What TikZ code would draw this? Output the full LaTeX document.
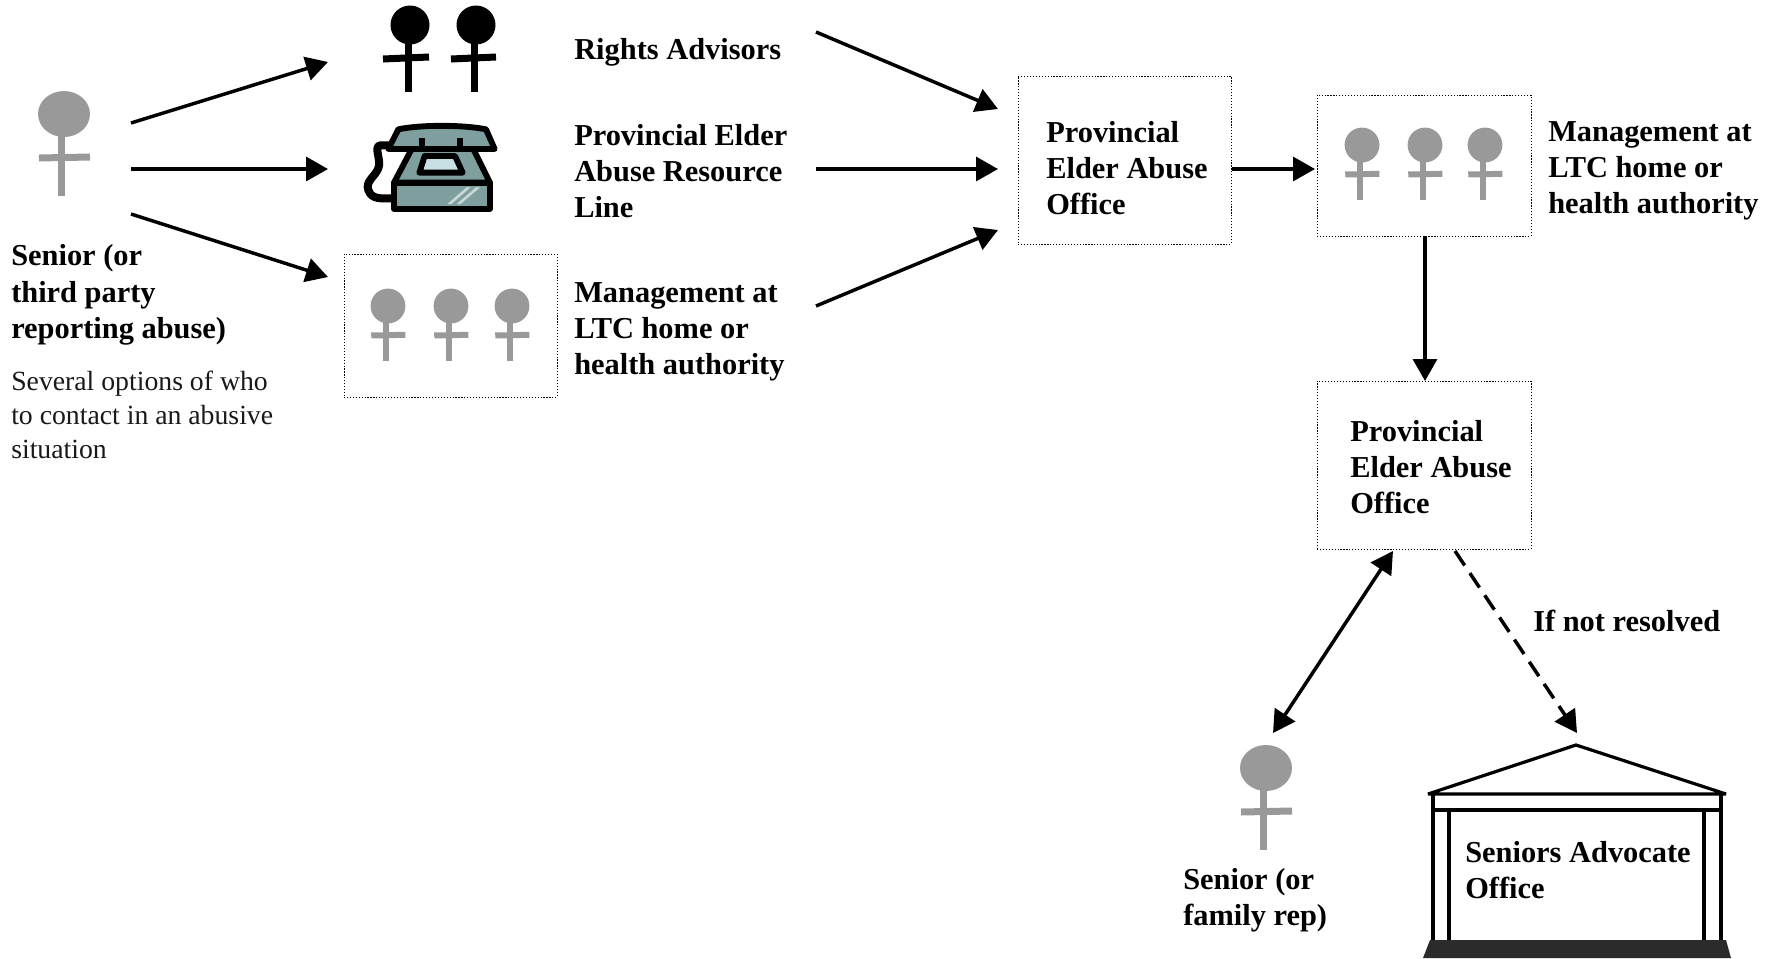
\documentclass[tikz,border=0pt]{standalone}
\usepackage{fontspec}
\setmainfont{Liberation Serif}
\usetikzlibrary{arrows.meta}
\definecolor{phoneteal}{HTML}{7F9E9E}
\definecolor{phoneglass}{HTML}{C8E0E4}
\definecolor{figgray}{HTML}{999999}
\definecolor{plinth}{HTML}{2B2B2B}
\tikzset{
  dbox/.style={draw=black,line width=.6pt,dash pattern=on .9pt off 1.3pt,inner sep=0pt},
  lab/.style={font=\bfseries\fontsize{22.8}{27.2}\selectfont,align=left,anchor=west,inner sep=0pt,text=black},
  note/.style={font=\fontsize{20.8}{25.5}\selectfont,align=left,anchor=west,inner sep=0pt,text=black!90},
  arr/.style={line width=2.6pt,-{Triangle[length=16.5pt,width=18pt]}},
  darr/.style={line width=2.6pt,{Triangle[length=16.5pt,width=18pt]}-{Triangle[length=16.5pt,width=18pt]}},
  dasharr/.style={line width=2.6pt,dash pattern=on 13pt off 7pt,-{Triangle[length=16.5pt,width=18pt]}},
  bld/.style={line width=2.4pt,draw=black,line cap=butt},
  phoneline/.style={draw=black,line width=4.4pt,line join=round,fill=phoneteal},
}
\newcommand{\personfig}[6]{% x, y, scale, colour, stroke width in px, head y radius
  \begin{scope}[shift={(#1,#2)},scale=#3]
    \fill[#4] (0,0) ellipse [x radius=26,y radius=#6];
    \draw[#4,line width=#5*.75pt] (-2.5,15) -- (-2.5,82);
    \draw[#4,line width=#5*.75pt] (-25,44) -- (26,43);
  \end{scope}}
\begin{document}
\begin{tikzpicture}[x=.75pt,y=-.75pt]
\useasboundingbox (0,0) rectangle (1779,958);

% boxes
\node[dbox,minimum width=159.75pt,minimum height=107.25pt] (mgmtA) at (450.5,325.5) {};
\node[dbox,minimum width=159.75pt,minimum height=126pt] (peaoA) at (1124.5,160) {};
\node[dbox,minimum width=160.5pt,minimum height=105.75pt] (mgmtB) at (1424,165.5) {};
\node[dbox,minimum width=160.5pt,minimum height=126pt] (peaoB) at (1424,465) {};

% free connector ends
\coordinate (s1) at (131,123); \coordinate (t1) at (328,62);
\coordinate (s2) at (131,169); \coordinate (t2) at (328,169);
\coordinate (s3) at (131,214); \coordinate (t3) at (328,277);
\coordinate (u1) at (816,32);  \coordinate (v1) at (998,109);
\coordinate (u2) at (816,169); \coordinate (v2) at (998,169);
\coordinate (u3) at (816,306); \coordinate (v3) at (998,230);
\coordinate (a1) at (1232,169); \coordinate (a2) at (1315,169);
\coordinate (b1) at (1425,236); \coordinate (b2) at (1425,381);
\coordinate (c1) at (1393,551); \coordinate (c2) at (1273,733);
\coordinate (d1) at (1455,551); \coordinate (d2) at (1577,733);

% people
\personfig{64}{114}{1}{figgray}{7}{23}
\personfig{1266}{768}{1}{figgray}{7}{23}
\personfig{388}{306}{.67}{figgray}{6}{26}
\personfig{451}{306}{.67}{figgray}{6}{26}
\personfig{512}{306}{.67}{figgray}{6}{26}
\personfig{1362}{145}{.67}{figgray}{6}{26}
\personfig{1425}{145}{.67}{figgray}{6}{26}
\personfig{1485}{145}{.67}{figgray}{6}{26}
\foreach \hx/\sx/\ca/\cb in {410/408/383/429,476/474/451/496}{
  \fill[black] (\hx,25) circle [radius=19.5];
  \fill[black] (\sx-3.5,30) rectangle (\sx+3.5,92);
  \draw[black,line width=5.25pt] (\ca,59) -- (\cb,57);
}

% phone
\begin{scope}[shift={(340,0)},scale=1/3]
  \draw[line width=6pt,line cap=round,line join=round] (150,436) -- (120,436)
     .. controls (100,440) and (125,480) .. (115,505)
     .. controls (105,530) and (75,545) .. (85,570)
     .. controls (95,600) and (125,595) .. (158,595);
  \path[phoneline] (145,447) -- (175,388) .. controls (240,374) and (370,374) .. (438,388) -- (464,447) -- cycle;
  \draw[line width=4.5pt] (245,415) -- (245,445);
  \draw[line width=4.5pt] (360,415) -- (360,445);
  \path[phoneline] (162,548) -- (215,447) -- (400,447) -- (450,548) -- cycle;
  \path[phoneline] (162,548) rectangle (450,626);
  \path[draw=black,line width=4.4pt,line join=round,fill=phoneglass] (238,518) -- (254,468) -- (345,468) -- (368,518) -- cycle;
  \fill[phoneteal!40] (322,612) -- (380,562) -- (392,562) -- (334,612) -- cycle;
  \fill[phoneteal!40] (350,612) -- (408,562) -- (420,562) -- (362,612) -- cycle;
\end{scope}

% building
\fill[plinth] (1423,958) -- (1430,940) -- (1726,940) -- (1731,958) -- cycle;
\draw[bld,line join=bevel] (1428,794) -- (1576,745) -- (1726,794) -- cycle;
\draw[bld] (1433,794) -- (1433,940);
\draw[bld] (1449,810) -- (1449,940);
\draw[bld] (1704,810) -- (1704,940);
\draw[bld] (1721,794) -- (1721,940);
\draw[bld] (1433,810) -- (1721,810);

% connectors
\draw[arr] (s1) -- (t1);
\draw[arr] (s2) -- (t2);
\draw[arr] (s3) -- (t3);
\draw[arr] (u1) -- (v1);
\draw[arr] (u2) -- (v2);
\draw[arr] (u3) -- (v3);
\draw[arr] (a1) -- (a2);
\draw[arr] (b1) -- (b2);
\draw[darr] (c1) -- (c2);
\draw[dasharr] (d1) -- (d2);

% labels
\node[lab] (tSenior) at (11,295) {Senior (or\\third party\\reporting abuse)};
\node[note] (tSeveral) at (11,415) {Several options of who\\to contact in an abusive\\situation};
\node[lab] (tRights) at (574,52) {Rights Advisors};
\node[lab] (tLine) at (574,171) {Provincial Elder\\Abuse Resource\\Line};
\node[lab] (tMgmtA) at (574,332) {Management at\\LTC home or\\health authority};
\node[lab] (tPeaoA) at (1046,168) {Provincial\\Elder Abuse\\Office};
\node[lab] (tMgmtB) at (1548,171) {Management at\\LTC home or\\health authority};
\node[lab] (tPeaoB) at (1350,467) {Provincial\\Elder Abuse\\Office};
\node[lab] (tIf) at (1533,621) {If not resolved};
\node[lab] (tFamily) at (1183,900) {Senior (or\\family rep)};
\node[lab] (tSA) at (1465,870) {Seniors Advocate\\Office};
\end{tikzpicture}
\end{document}
